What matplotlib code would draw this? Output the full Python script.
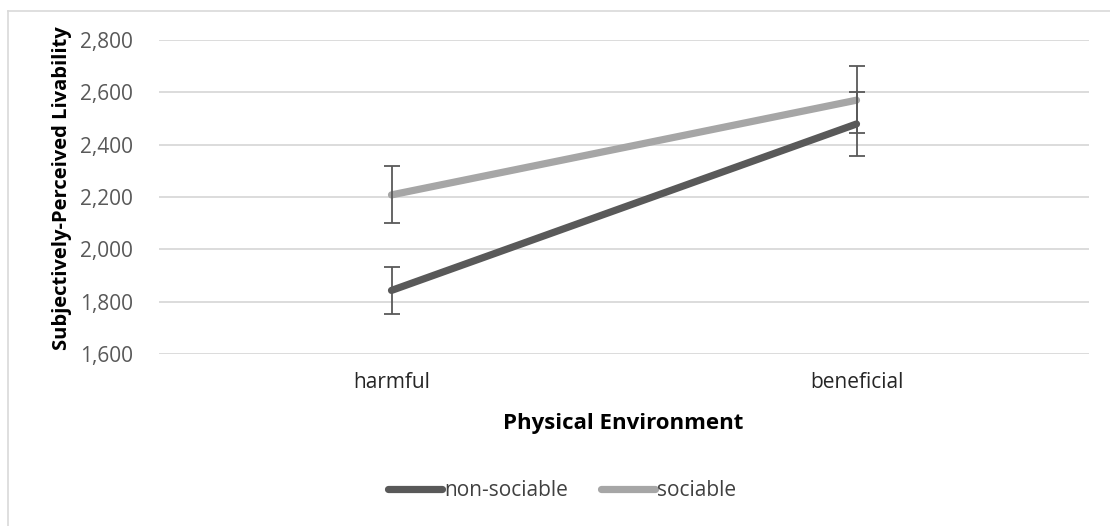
import matplotlib
matplotlib.use("Agg")
import matplotlib.pyplot as plt
from matplotlib.lines import Line2D
from matplotlib.ticker import FuncFormatter

categories = ["harmful", "beneficial"]
series_names = ["non-sociable", "sociable"]
non_sociable = [1843, 2479]
sociable = [2208, 2570]
non_sociable_err_low = [1753, 2355]
non_sociable_err_high = [1934, 2600]
sociable_err_low = [2101, 2444]
sociable_err_high = [2320, 2699]
y_ticks = [1600, 1800, 2000, 2200, 2400, 2600, 2800]

FONT = ["Open Sans", "DejaVu Sans"]
plt.rcParams["font.family"] = FONT

W, H = 1110, 526
fig = plt.figure(figsize=(W / 100, H / 100), dpi=100)
fig.patch.set_facecolor("white")

left, right, top, bottom = 159, 1089, 40, 354
ax = fig.add_axes([left / W, 1 - bottom / H, (right - left) / W, (bottom - top) / H])

# chart frame (only top/left visible)
fig.add_artist(Line2D([8 / W, 8 / W], [0, 1 - 11 / H], transform=fig.transFigure, color="#d9d9d9", lw=1.2))
fig.add_artist(Line2D([8 / W, 1], [1 - 11 / H, 1 - 11 / H], transform=fig.transFigure, color="#d9d9d9", lw=1.2))

x = list(range(len(categories)))
colors = {"non-sociable": "#595959", "sociable": "#a6a6a6"}
data = {"non-sociable": (non_sociable, non_sociable_err_low, non_sociable_err_high),
        "sociable": (sociable, sociable_err_low, sociable_err_high)}

for name in series_names:
    vals, lo, hi = data[name]
    ax.plot(x, vals, color=colors[name], lw=5.2, solid_capstyle="round", zorder=3, label=name)
for name in series_names:
    vals, lo, hi = data[name]
    yerr = [[v - l for v, l in zip(vals, lo)], [h - v for v, h in zip(vals, hi)]]
    ax.errorbar(x, vals, yerr=yerr, fmt="none", ecolor="#595959", elinewidth=1.3,
                capsize=6, capthick=1.3, zorder=4)

ax.set_xlim(-0.5, 1.5)
ax.set_ylim(1600, 2800)
ax.set_yticks(y_ticks)
ax.yaxis.set_major_formatter(FuncFormatter(lambda v, p: f"{int(v):,}"))
ax.set_xticks(x)
ax.set_xticklabels(categories)
ax.grid(axis="y", color="#d9d9d9", lw=1.3)
ax.set_axisbelow(True)
for s in ax.spines.values():
    s.set_visible(False)
ax.tick_params(axis="both", length=0, labelsize=15, labelcolor="#595959")
ax.tick_params(axis="y", pad=19)
ax.tick_params(axis="x", pad=13, labelcolor="#262626")

fig.text(62 / W, 1 - 188 / H, "Subjectively-Perceived Livability", rotation=90,
         ha="center", va="center", fontsize=14.5, fontweight="bold", color="#000000")
fig.text(623 / W, 1 - 424 / H, "Physical Environment", ha="center", va="center",
         fontsize=16, fontweight="bold", color="#000000")

handles = [Line2D([0], [0], color=colors[n], lw=5.2, solid_capstyle="round") for n in series_names]
fig.legend(handles, series_names, loc="center", bbox_to_anchor=(562 / W, 1 - 491 / H),
           ncol=2, frameon=False, fontsize=15, handlelength=2.6, handletextpad=0.1,
           columnspacing=1.6, labelcolor="#404040")

fig.savefig("out.png", dpi=100, facecolor="white")
